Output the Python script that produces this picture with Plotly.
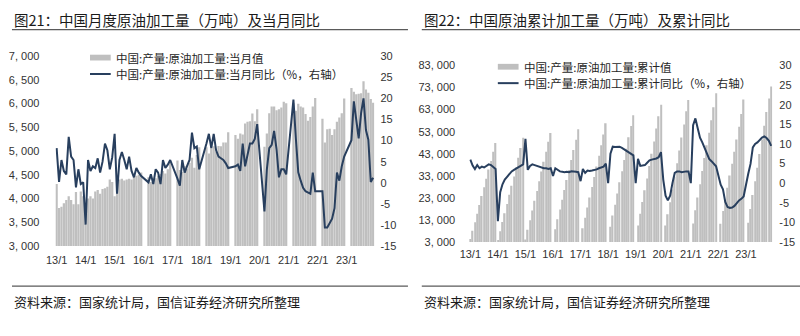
import plotly.graph_objects as go

# ---- monthly axis: 2013-01 .. 2023-12 ----
months = [f"{y}-{m:02d}" for y in range(2013, 2024) for m in range(1, 13)]
tick_months = [f"{y}-01" for y in range(2013, 2024)]
tick_labels = [f"{y % 100}/1" for y in range(2013, 2024)]

# ---- Fig 21: monthly crude runs (万吨) and YoY (%) ----
monthly_runs = [
    4306, 3800, 3830, 3900, 3970, 4050, 3970, 3880, 4140, 3880, 4150, 4050,   # 2013
    3880, 4000, 4050, 4000, 4150, 4180, 4100, 4200, 4220, 4250, 4400, 4350,   # 2014
    4050, 4450, 4400, 4420, 4380, 4400, 4420, 4400, 4450, 4480, 4500, 4550,   # 2015
    None, None, 4450, 4350, 4420, 4430, 4480, 4520, 4580, 4530, 4620, 4750,   # 2016
    None, None, 4800, 4600, 4560, 4680, 4630, 4750, 4860, 4650, 4920, 5080,   # 2017
    None, None, 5080, 4950, 5060, 5100, 4990, 5110, 5100, 5180, 5180, 5400,   # 2018
    None, None, 5340, 5260, 5370, 5350, 5580, 5620, 5630, 5790, 5630, 5880,   # 2019
    None, None, 5090, 5370, 5800, 5940, 5940, 5860, 5880, 5920, 6040, 6010,   # 2020
    None, None, 6010, 5850, 6000, 5940, 5920, 5780, 5640, 5720, 5940, 6120,   # 2021
    None, None, 5680, 5180, 5460, 5470, 5340, 5460, 5620, 5710, 5800, 6110,   # 2022
    None, None, 6330, 6250, 6200, 6210, 6220, 6470, 6300, 6230, 6100, 6020,   # 2023
]
monthly_yoy = [
    8.2, 0.2, 5.4, 2.8, 2.0, 10.9, 6.2, 5.4, -1.1, 3.2, -0.3, 0.1,            # 2013
    -9.9, 5.4, 2.8, 3.9, 3.5, 5.8, 2.4, 5.0, 9.3, 7.7, 3.2, 6.0,              # 2014
    11.6, -2.6, 5.4, 7.3, 5.4, 3.2, 6.2, 2.8, 1.3, 3.5, 2.4, 1.6,             # 2015
    None, None, 0.1, 2.0, -0.3, 3.2, 2.4, -0.3, 5.4, 3.5, 4.3, 5.4,           # 2016
    None, None, 1.0, -0.7, 5.4, 2.4, 4.0, 5.4, 11.9, 8.2, 8.6, 3.2,           # 2017
    None, None, 9.3, 11.6, 8.2, 11.6, 7.7, 6.2, 5.8, 5.4, 4.6, 3.5,           # 2018
    None, None, 3.9, 4.3, 2.8, 9.3, 3.9, 6.6, 9.3, 9.3, 10.4, 13.9,           # 2019
    None, None, -6.8, 3.2, 8.2, 9.0, 12.3, 8.0, 1.3, 3.2, 3.2, 2.0,           # 2020
    None, None, 19.7, 10.5, 2.5, 0.5, -1.2, -2.0, -2.4, -2.6, 2.4, -2.0,      # 2021
    None, None, -2.0, -10.6, -10.6, -9.6, -8.5, -6.0, 2.4, 0.5, 3.9, 6.2,     # 2022
    None, None, 10.1, 19.3, 15.0, 10.5, 16.5, 20.0, 12.5, 10.2, 0.2, 1.2,     # 2023
]

# ---- Fig 22: cumulative crude runs (万吨) and cumulative YoY (%) ----
cum_runs = [
    4300, 8100, 11900, 15800, 19800, 23800, 27800, 31700, 35800, 39700, 43900, 47900,      # 2013
    3900, 7900, 12000, 16000, 20200, 24400, 28500, 32700, 36900, 41200, 45600, 50300,      # 2014
    4100, 8500, 12900, 17300, 21700, 26100, 30500, 34900, 39400, 43900, 48400, 52400,      # 2015
    None, 8800, 13300, 17700, 22100, 26600, 31100, 35600, 40200, 44700, 49300, 54100,      # 2016
    None, 9200, 14000, 18600, 23200, 27900, 32500, 37200, 42100, 46800, 51700, 56800,      # 2017
    None, 9900, 15000, 19900, 25000, 30100, 35100, 40200, 45300, 50500, 55600, 60400,      # 2018
    None, 10500, 15800, 21100, 26500, 31800, 37400, 43000, 48600, 54400, 60000, 65200,     # 2019
    None, 10500, 15600, 21000, 26800, 32700, 38700, 44500, 50400, 56300, 62300, 67400,     # 2020
    None, 11400, 17400, 23200, 29200, 35200, 41100, 46900, 52500, 58200, 64100, 70400,     # 2021
    None, 11300, 17000, 22200, 27600, 33100, 38500, 43900, 49500, 55200, 61000, 67600,     # 2022
    None, 11700, 18000, 24300, 30500, 36700, 42900, 49400, 55700, 61900, 68000, 73500,     # 2023
]
cum_yoy = [
    6.0, 4.5, 3.6, 4.6, 3.8, 4.2, 4.0, 4.4, 4.8, 4.6, 4.2, 3.6,                # 2013
    -9.7, -2.3, -0.3, 0.9, 1.6, 2.4, 3.0, 3.4, 3.8, 4.2, 4.6, 4.8,            # 2014
    11.3, 3.4, 4.4, 4.8, 4.6, 4.4, 4.2, 4.0, 3.8, 3.8, 3.6, 3.8,              # 2015
    1.8, 3.8, 3.4, 3.0, 2.9, 2.8, 2.9, 2.8, 3.0, 3.0, 2.9, 2.8,               # 2016
    0.5, 3.6, 2.6, 3.2, 3.1, 3.2, 3.3, 3.5, 3.8, 4.0, 4.2, 5.0,               # 2017
    0.0, 7.5, 9.3, 9.2, 9.2, 9.3, 9.0, 8.6, 8.3, 8.0, 7.6, 7.1,               # 2018
    0.0, 6.2, 4.4, 4.6, 4.6, 5.2, 5.8, 6.0, 6.1, 6.3, 6.6, 7.9,               # 2019
    0.9, -3.2, -4.4, -3.2, 0.0, 2.6, 3.0, 3.0, 2.8, 3.0, 3.0, 3.0,            # 2020
    0.0, 14.8, 16.5, 14.0, 11.6, 10.4, 9.1, 7.8, 6.2, 5.6, 4.9, 4.3,          # 2021
    None, -0.4, -1.6, -4.8, -6.1, -6.3, -6.2, -5.8, -5.0, -4.4, -4.0, -3.4,   # 2022
    None, 2.4, 4.9, 9.1, 10.0, 10.4, 11.0, 11.6, 11.9, 11.5, 10.8, 9.5,       # 2023
]

BAR = "#BFBFBF"
LINE = "#283F5E"
NUM_FONT = dict(family="Liberation Sans, Arial", size=11, color="#333333")
CJK = "Noto Sans CJK SC"

def fmt_thousands(v):
    return f"{v:,}".replace(",", ", ")

fig = go.Figure()

fig.add_trace(go.Bar(x=months, y=monthly_runs, marker_color=BAR, width=0.93,
                     marker_line_width=0, xaxis="x", yaxis="y", showlegend=False))
fig.add_trace(go.Scatter(x=months, y=monthly_yoy, mode="lines", connectgaps=True,
                         line=dict(color=LINE, width=2), xaxis="x", yaxis="y2",
                         showlegend=False))
fig.add_trace(go.Bar(x=months, y=cum_runs, marker_color=BAR, width=0.62,
                     marker_line_width=0, xaxis="x2", yaxis="y3", showlegend=False))
fig.add_trace(go.Scatter(x=months, y=cum_yoy, mode="lines", connectgaps=True,
                         line=dict(color=LINE, width=2), xaxis="x2", yaxis="y4",
                         showlegend=False))

W, H = 800, 336
def px(xp):
    return xp / W
def py(yp):
    return 1 - yp / H

left_ticks = list(range(3000, 7001, 500))
right_ticks = list(range(3000, 83001, 10000))
yoy_ticks = list(range(-15, 31, 5))

xcommon = dict(type="category", categoryorder="array", categoryarray=months,
               range=[-0.5, len(months) - 0.5], tickmode="array",
               tickvals=tick_months, ticktext=tick_labels, showgrid=False,
               showline=False, ticks="", tickfont=NUM_FONT, zeroline=False)
ycommon = dict(showgrid=False, zeroline=False, showline=False, ticks="",
               tickfont=NUM_FONT, tickmode="array")

fig.update_layout(
    width=W, height=H, margin=dict(l=0, r=0, t=0, b=0),
    paper_bgcolor="white", plot_bgcolor="white", barmode="overlay",
    xaxis=dict(domain=[px(46), px(369)], anchor="y", ticklabelstandoff=6, **xcommon),
    yaxis=dict(domain=[py(249), py(52)], range=[3000, 7000], tickvals=left_ticks,
               ticktext=[fmt_thousands(v) for v in left_ticks], ticklabelstandoff=15,
               **ycommon),
    yaxis2=dict(domain=[py(249), py(52)], range=[-15, 30], overlaying="y", side="right",
                anchor="x", tickvals=yoy_ticks, ticktext=[str(v) for v in yoy_ticks],
                ticklabelstandoff=5, **ycommon),
    xaxis2=dict(domain=[px(465), px(772)], anchor="y3", ticklabelstandoff=4, **xcommon),
    yaxis3=dict(domain=[py(244.7), py(61.7)], range=[3000, 83000], anchor="x2",
                tickvals=right_ticks, ticktext=[fmt_thousands(v) for v in right_ticks],
                ticklabelstandoff=13, **ycommon),
    yaxis4=dict(domain=[py(244.7), py(61.7)], range=[-15, 30], overlaying="y3",
                side="right", anchor="x2", tickvals=yoy_ticks,
                ticktext=[str(v) for v in yoy_ticks], ticklabelstandoff=6, **ycommon),
)

shapes = []
annotations = []

def hline(x0, x1, y, color="#5a5a5a", w=1.2):
    shapes.append(dict(type="line", xref="paper", yref="paper", x0=px(x0), x1=px(x1),
                       y0=py(y), y1=py(y), line=dict(color=color, width=w)))

def text(x, y, s, size, color="#1a1a1a", family=CJK):
    annotations.append(dict(text=s, xref="paper", yref="paper", x=px(x), y=py(y),
                            xanchor="left", yanchor="middle", showarrow=False,
                            font=dict(family=family, size=size, color=color)))

# titles and rules
text(2, 13.5, "图21：中国月度原油加工量（万吨）及当月同比", 14.5)
text(417, 13.5, "图22：中国原油累计加工量（万吨）及累计同比", 14.5)
hline(2, 403, 24.5)
hline(417, 800, 24.5)
hline(2, 403, 290.5)
hline(417, 800, 290.5)
text(2, 306, "资料来源：国家统计局，国信证券经济研究所整理", 13)
text(417, 306, "资料来源：国家统计局，国信证券经济研究所整理", 13)

# legends
def legend_bar(x, y, label):
    shapes.append(dict(type="rect", xref="paper", yref="paper", x0=px(x), x1=px(x + 21),
                       y0=py(y + 3), y1=py(y - 3), fillcolor=BAR, line=dict(width=0)))
    text(x + 24, y, label, 11.5, color="#262626")

def legend_line(x, y, label):
    shapes.append(dict(type="line", xref="paper", yref="paper", x0=px(x), x1=px(x + 21),
                       y0=py(y), y1=py(y), line=dict(color=LINE, width=2)))
    text(x + 24, y, label, 11.5, color="#262626")

legend_bar(81, 53.5, "中国:产量:原油加工量:当月值")
legend_line(81, 70.5, "中国:产量:原油加工量:当月同比（%，右轴）")
legend_bar(494, 63, "中国:产量:原油加工量:累计值")
legend_line(494, 80, "中国:产量:原油加工量:累计同比（%，右轴）")

fig.update_layout(shapes=shapes, annotations=annotations)
fig.write_html("out.html")
